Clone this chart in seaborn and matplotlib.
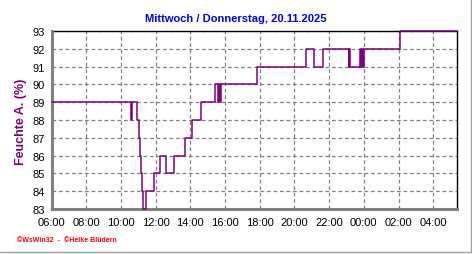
import matplotlib
matplotlib.use("Agg")
import matplotlib.pyplot as plt
import matplotlib.dates as mdates
from matplotlib.lines import Line2D
import seaborn as sns
import pandas as pd

# ---- data ----
change_times = [
    "2025-11-19 06:00", "2025-11-19 10:34", "2025-11-19 10:38", "2025-11-19 10:54",
    "2025-11-19 11:01", "2025-11-19 11:05", "2025-11-19 11:09", "2025-11-19 11:14",
    "2025-11-19 11:18", "2025-11-19 11:27", "2025-11-19 11:54", "2025-11-19 12:14",
    "2025-11-19 12:36", "2025-11-19 13:03", "2025-11-19 13:40", "2025-11-19 14:06",
    "2025-11-19 14:36", "2025-11-19 15:24", "2025-11-19 15:36", "2025-11-19 15:38",
    "2025-11-19 15:41", "2025-11-19 15:45", "2025-11-19 17:52", "2025-11-19 20:40",
    "2025-11-19 21:07", "2025-11-19 21:37", "2025-11-19 23:07", "2025-11-19 23:09",
    "2025-11-19 23:12", "2025-11-19 23:46", "2025-11-19 23:50", "2025-11-19 23:55",
    "2025-11-19 23:57", "2025-11-20 00:02", "2025-11-20 02:06", "2025-11-20 05:22",
]
humidity = [
    89, 88, 89, 88,
    87, 86, 85, 84,
    83, 84, 85, 86,
    85, 86, 87, 88,
    89, 90, 89, 90,
    89, 90, 91, 92,
    91, 92, 91, 92,
    91, 92, 91, 92,
    91, 92, 93, 93,
]
y_ticks = list(range(83, 94))
x_start = "2025-11-19 06:00"
x_end = "2025-11-20 05:22"
title = "Mittwoch / Donnerstag, 20.11.2025"
y_label = "Feuchte A. (%)"
footer = "\u00a9WsWin32  -  \u00a9Heike Blüdern"

df = pd.DataFrame({"time": pd.to_datetime(change_times), "value": humidity})

sns.set_theme(style="white")
plt.rcParams["font.family"] = ["Liberation Sans", "DejaVu Sans"]

W, H = 472, 255
fig = plt.figure(figsize=(W / 100, H / 100), dpi=100)
fig.patch.set_facecolor("white")
l, r, t, b = 51.5, 457, 32, 210
ax = fig.add_axes([l / W, 1 - b / H, (r - l) / W, (b - t) / H])

sns.lineplot(data=df, x="time", y="value", ax=ax, color="#800080",
             linewidth=1.1, drawstyle="steps-post", estimator=None, legend=False,
             zorder=5, clip_on=False)

ax.set_xlim(pd.Timestamp(x_start), pd.Timestamp(x_end))
ax.set_ylim(y_ticks[0], y_ticks[-1])
ax.set_yticks(y_ticks)
ax.yaxis.set_minor_locator(matplotlib.ticker.MultipleLocator(0.25))
ax.xaxis.set_major_locator(mdates.HourLocator(byhour=range(0, 24, 2)))
ax.xaxis.set_minor_locator(mdates.MinuteLocator(byminute=[0, 30]))
ax.xaxis.set_major_formatter(mdates.DateFormatter("%H:%M"))
ax.set_xlabel("")
ax.set_ylabel("")

ax.grid(True, which="major", color="#808080", linestyle=(0, (3, 2.2)), linewidth=0.9)
ax.set_axisbelow(True)

for s in ("top", "right"):
    ax.spines[s].set_color("black")
    ax.spines[s].set_linewidth(1.0)
    ax.spines[s].set_zorder(2)
for s in ("left", "bottom"):
    ax.spines[s].set_color("#808080")
    ax.spines[s].set_linewidth(2.2)

ax.tick_params(axis="both", which="major", labelsize=8, colors="#808080",
               labelcolor="black", length=4, width=1, pad=2)
ax.tick_params(axis="x", which="minor", colors="#808080", length=3, width=1)
ax.tick_params(axis="y", which="minor", colors="#808080", length=2, width=1)
ax.tick_params(axis="y", which="major", length=3)

fig.text(236 / W, 1 - 19 / H, title, color="#0000FF", fontsize=8, fontweight="bold",
         ha="center", va="center")
fig.text(21 / W, 1 - 122 / H, y_label, color="#800080", fontsize=9, fontweight="bold",
         ha="center", va="center", rotation=90)
fig.text(17 / W, 1 - 241 / H, footer, color="#FF0000", fontsize=5, fontweight="bold",
         ha="left", va="center")

# light gray frame at right and bottom of the image
fig.add_artist(Line2D([470.5 / W, 470.5 / W], [1 - 252.5 / H, 1.0], color="#a0a0a0",
                      linewidth=1.0, transform=fig.transFigure))
fig.add_artist(Line2D([0, 470.5 / W], [1 - 252.5 / H, 1 - 252.5 / H], color="#a0a0a0",
                      linewidth=1.0, transform=fig.transFigure))

fig.savefig("out.png", dpi=100)
